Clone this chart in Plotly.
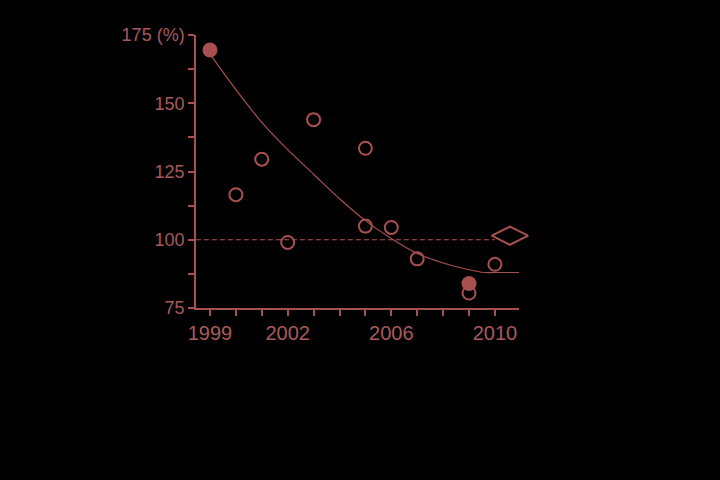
import plotly.graph_objects as go

# Data
open_years = [2000, 2001, 2002, 2003, 2005, 2005, 2006, 2007, 2009, 2010]
open_values = [116.5, 129.5, 99, 144, 133.5, 105, 104.5, 93, 80.5, 91]
filled_years = [1999, 2009]
filled_values = [169.5, 84]
trend_years = [1999, 2000, 2001, 2002, 2003, 2004, 2005, 2006, 2007, 2008, 2009, 2009.6, 2010, 2010.93]
trend_values = [168, 155, 143, 133, 124, 115, 107, 100.5, 95, 91.5, 89, 88, 88, 88]
ref_years = [1998.46, 2010]
ref_values = [100, 100]
diamond_year = [2010.58]
diamond_value = [101.5]
x_tick_years = list(range(1999, 2011))
x_tick_labels = ["1999", "", "", "2002", "", "", "", "2006", "", "", "", "2010"]
y_tick_vals = [75, 87.5, 100, 112.5, 125, 137.5, 150, 162.5, 175]
y_tick_labels = ["75", "", "100", "", "125", "", "150", "", "175 (%)"]

C = "#a85050"
TXT = "#a85a5a"

fig = go.Figure()
fig.add_trace(go.Scatter(x=ref_years, y=ref_values, mode="lines",
                         line=dict(color=C, width=1.2, dash="5px,3px")))
fig.add_trace(go.Scatter(x=trend_years, y=trend_values, mode="lines",
                         line=dict(color=C, width=1.2, shape="spline", smoothing=0.8)))
fig.add_trace(go.Scatter(x=open_years, y=open_values, mode="markers", cliponaxis=False,
                         marker=dict(symbol="circle-open", size=13, color=C,
                                     line=dict(width=2, color=C))))
fig.add_trace(go.Scatter(x=filled_years, y=filled_values, mode="markers", cliponaxis=False,
                         marker=dict(symbol="circle", size=15, color=C)))
fig.add_trace(go.Scatter(x=diamond_year, y=diamond_value, mode="markers", cliponaxis=False,
                         marker=dict(symbol="diamond-wide-open", size=26, color=C,
                                     line=dict(width=2, color=C))))

fig.update_layout(
    width=720, height=480,
    paper_bgcolor="black", plot_bgcolor="black",
    showlegend=False,
    margin=dict(l=196, r=201, t=35, b=172),
    font=dict(family="Liberation Sans, Arial, sans-serif", color=TXT),
)
fig.update_xaxes(range=[1998.46, 2010.93], tickvals=x_tick_years, ticktext=x_tick_labels,
                 ticks="outside", ticklen=6, tickcolor=C, tickwidth=1.5,
                 showline=True, linecolor=C, linewidth=1.5, showgrid=False, zeroline=False,
                 tickfont=dict(size=20, color=TXT), ticklabelstandoff=0)
fig.update_yaxes(range=[75, 175], tickvals=y_tick_vals, ticktext=y_tick_labels,
                 ticks="outside", ticklen=6, tickcolor=C, tickwidth=1.5,
                 showline=True, linecolor=C, linewidth=1.5, showgrid=False, zeroline=False,
                 tickfont=dict(size=18, color=TXT))

fig.write_html("out.html", config={"displayModeBar": False},
               post_script="document.body.style.margin='0';document.body.style.background='black';")
